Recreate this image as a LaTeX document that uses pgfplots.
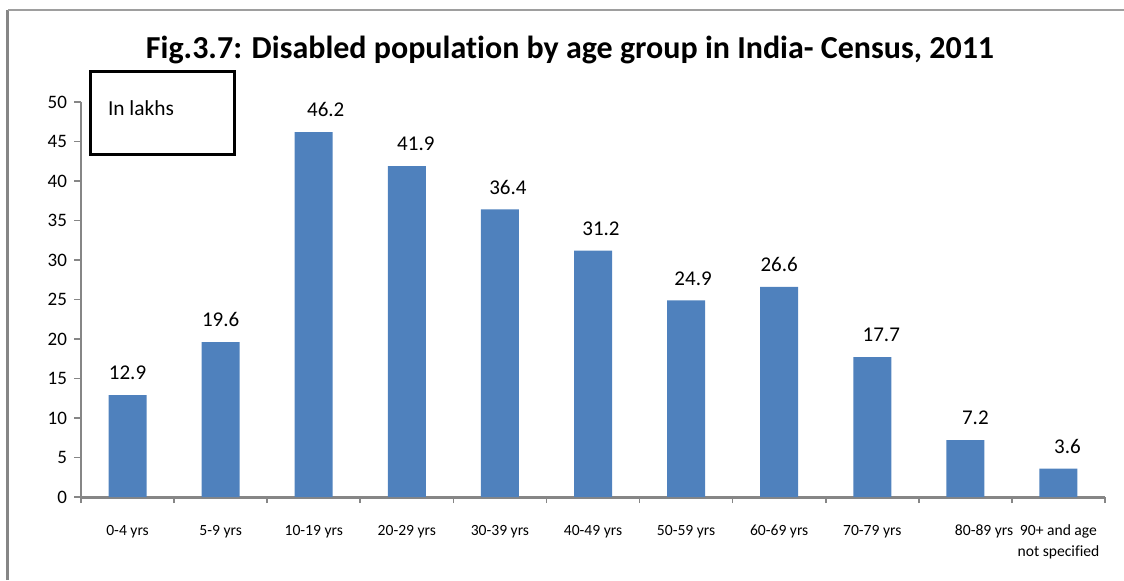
\documentclass[border=0pt]{standalone}
\usepackage{pgfplots}
\pgfplotsset{compat=1.18}
\usepackage{pgfplotstable}
\usepackage{fontspec}
\setmainfont{Carlito}[Ligatures=NoCommon]
\definecolor{barblue}{HTML}{4F81BD}
\definecolor{axgray}{HTML}{868686}
\pgfplotstableread{
x y dx
0 12.9 0
1 19.6 0
2 46.2 6
3 41.9 4.5
4 36.4 4
5 31.2 4
6 24.9 3.5
7 26.6 0
8 17.7 4.5
9 7.2 5
10 3.6 4.5
}\datatable
\begin{document}
\begin{tikzpicture}
\useasboundingbox (-40.5pt,-41.5pt) rectangle (521.5pt,248.5pt);
\draw[axgray, line width=1.5pt] (-36.5pt,-41.5pt) -- (-36.5pt,243.5pt);
\draw[axgray!80, line width=0.6pt] (-36.5pt,243.5pt) -- (521.5pt,243.5pt);
\begin{axis}[
  at={(0pt,0pt)}, anchor=south west,
  scale only axis, width=512pt, height=197.5pt,
  xmin=-0.5, xmax=10.5, ymin=0, ymax=50,
  axis x line*=bottom, axis y line*=left,
  axis line style={axgray},
  x axis line style={line width=1.5pt, -},
  y axis line style={line width=0.8pt, -},
  xtick={0,...,10},
  xticklabels={0-4 yrs,5-9 yrs,10-19 yrs,20-29 yrs,30-39 yrs,40-49 yrs,50-59 yrs,60-69 yrs,70-79 yrs,\hspace{2.4em}80-89 yrs,{90+ and age\\not specified}},
  xticklabel style={font=\fontsize{7.8pt}{10.5pt}\selectfont, align=center, anchor=north, yshift=-7pt},
  major x tick style={draw=none},
  minor xtick={-0.5,0.5,...,10.5},
  minor x tick style={axgray, line width=0.8pt},
  minor tick length=3pt,
  ytick={0,5,...,50},
  ytick style={axgray, line width=0.8pt},
  major tick length=3.5pt,
  tick align=outside,
  yticklabel style={font=\fontsize{9.5pt}{11pt}\selectfont},
  /pgf/number format/assume math mode=true,
  clip=false,
]
\addplot[ybar, bar width=19pt, fill=barblue, draw=none,
  visualization depends on={\thisrow{dx} \as \dx},
  nodes near coords,
  nodes near coords style={font=\fontsize{10.5pt}{12pt}\selectfont, anchor=south, yshift=4pt, xshift=\dx pt, /pgf/number format/fixed, /pgf/number format/precision=1, /pgf/number format/fixed zerofill, /pgf/number format/assume math mode=true},
] table[x=x, y=y] {\datatable};
\draw[black, line width=1.5pt] (rel axis cs:0.0088,1.076) rectangle (rel axis cs:0.150,0.866);
\node[anchor=west, font=\fontsize{10.7pt}{12pt}\selectfont, inner sep=0pt] at (rel axis cs:0.026,0.985) {In lakhs};
\node[font=\fontsize{16pt}{19pt}\selectfont\bfseries] at (rel axis cs:0.4775,1.132) {Fig.3.7: Disabled population by age group in India- Census, 2011};
\end{axis}
\end{tikzpicture}
\end{document}
